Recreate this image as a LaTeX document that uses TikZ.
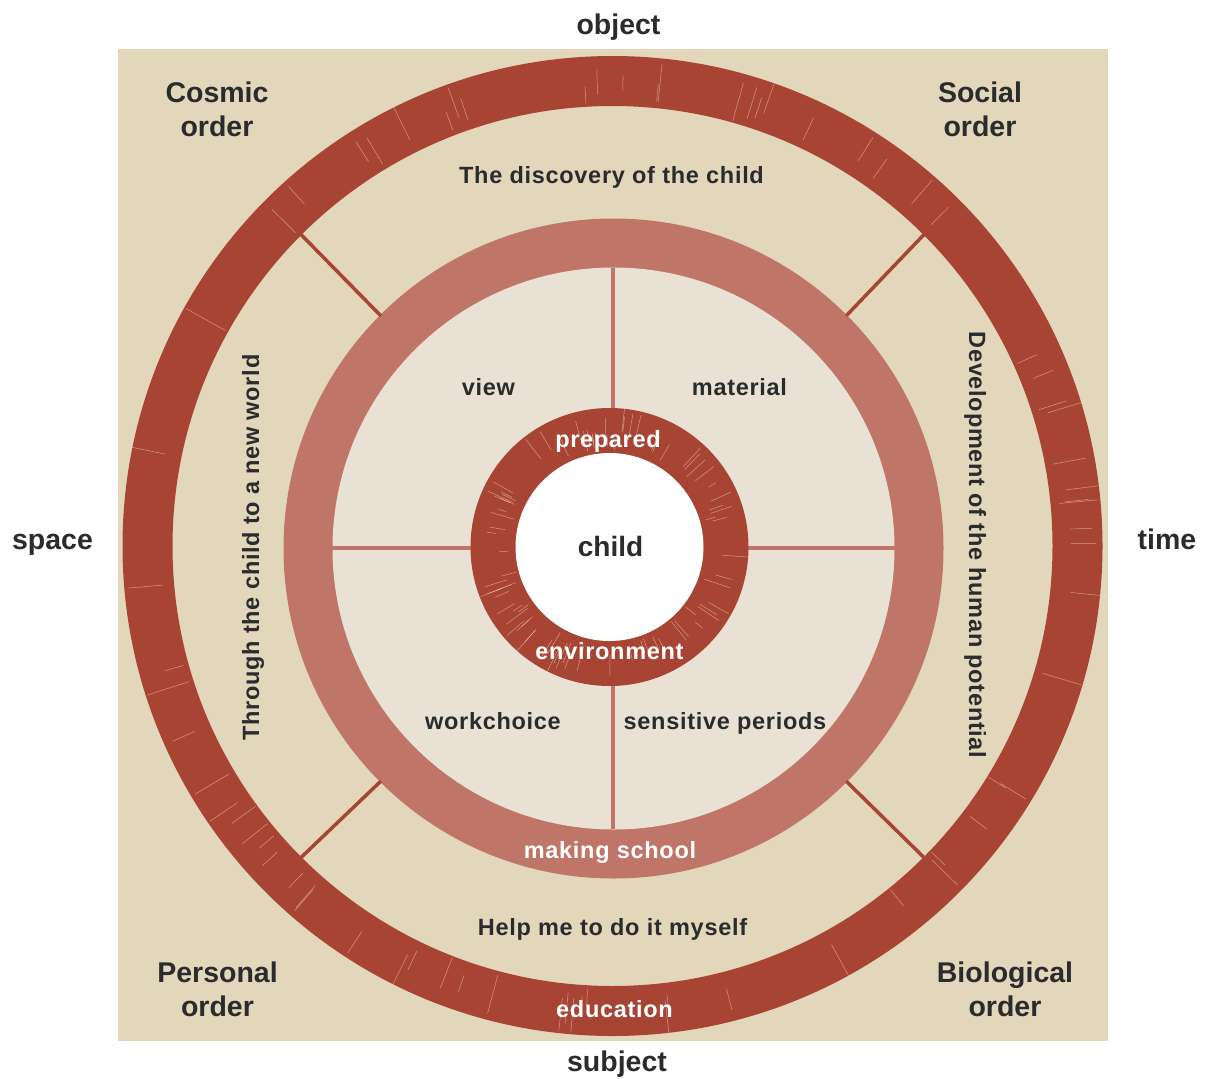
\documentclass[tikz,border=0pt]{standalone}
\usepackage{fontspec}
\setmainfont{Liberation Sans}
\newfontfamily\spacedfont{Liberation Sans}[LetterSpace=3]
\usetikzlibrary{calc}
\definecolor{bgc}{HTML}{E3D7BB}
\definecolor{outc}{HTML}{A84434}
\definecolor{midc}{HTML}{BF7567}
\definecolor{inc}{HTML}{E9E2D4}
\definecolor{txt}{HTML}{2A2B2D}
\definecolor{streak}{HTML}{F2E2C8}
\begin{document}
\begin{tikzpicture}[x=1pt,y=-1pt,
  big/.style={font=\fontsize{28.5}{34}\selectfont\bfseries, text=txt, inner sep=0pt, anchor=base},
  small/.style={font=\spacedfont\fontsize{23.5}{28}\selectfont\bfseries, text=txt, inner sep=0pt, anchor=base},
  wsmall/.style={small, text=white},
  divider/.style={midc, line width=3.5pt},
  spoke/.style={outc, line width=3.5pt},
  streakline/.style={streak, line width=0.5pt, opacity=0.55}
]
\useasboundingbox (0,0) rectangle (1205,1079);
\fill[white] (0,0) rectangle (1205,1079);
% background square
\fill[bgc] (118,49) rectangle (1108,1041);

% centres
\coordinate (C1) at (612.5,546);
\coordinate (C2) at (613.5,548.5);
\coordinate (C3) at (609.5,547);

% outer ring
\fill[outc, even odd rule] (C1) circle[radius=490pt] (C1) circle[radius=440pt];
\pgfmathsetseed{11}
\foreach \i in {1,...,70}{
  \pgfmathsetmacro{\ang}{rnd*360}
  \pgfmathsetmacro{\ra}{441+rnd*20}
  \pgfmathsetmacro{\rb}{\ra+15+rnd*30}
  \draw[streakline] ($(C1)+(\ang:\ra pt)$) -- ($(C1)+(\ang:\rb pt)$);
}

% middle ring and inner disk
\fill[midc] (C2) circle[radius=330pt];
\fill[inc] (C2) circle[radius=281pt];

% diagonal spokes between outer ring and middle ring
\foreach \a/\n in {45/ne,135/nw,225/sw,315/se}{
  \coordinate (sa\n) at ($(C1)+(\a:441pt)$);
  \coordinate (sb\n) at ($(C2)+(\a:329pt)$);
  \draw[spoke] (sa\n) -- (sb\n);
}

% inner ring geometry points
\coordinate (vt1) at (613,268);
\coordinate (vt2) at (613,409);
\coordinate (vb1) at (613,685);
\coordinate (vb2) at (613,829);
\coordinate (hl1) at (332,548);
\coordinate (hl2) at (471,548);
\coordinate (hr1) at (748,548);
\coordinate (hr2) at (895,548);
\draw[divider] (vt1) -- (vt2);
\draw[divider] (vb1) -- (vb2);
\draw[divider] (hl1) -- (hl2);
\draw[divider] (hr1) -- (hr2);

% inner ring
\fill[outc] (C3) circle[radius=139pt];
\pgfmathsetseed{5}
\foreach \i in {1,...,80}{
  \pgfmathsetmacro{\ang}{rnd*360}
  \pgfmathsetmacro{\ra}{96+rnd*20}
  \pgfmathsetmacro{\rb}{\ra+8+rnd*20}
  \draw[streakline] ($(C3)+(\ang:\ra pt)$) -- ($(C3)+(\ang:\rb pt)$);
}
\fill[white] (C3) circle[radius=94pt];

% axis labels
\node[big] (object) at (618.5,34) {object};
\node[big] (subject) at (617,1071) {subject};
\node[big] (space) at (52.5,549) {space};
\node[big] (time) at (1167,549) {time};

% corner labels
\node[big] (cosmic) at (217,102) {\begin{tabular}[t]{@{}c@{}}Cosmic\\order\end{tabular}};
\node[big] (social) at (980,102) {\begin{tabular}[t]{@{}c@{}}Social\\order\end{tabular}};
\node[big] (personal) at (217.5,982) {\begin{tabular}[t]{@{}c@{}}Personal\\order\end{tabular}};
\node[big] (biological) at (1005,982) {\begin{tabular}[t]{@{}c@{}}Biological\\order\end{tabular}};

% ring band texts
\node[small] (discovery) at (611.5,183) {The discovery of the child};
\node[small] (help) at (612.5,935) {Help me to do it myself};
\node[small, rotate=90] (through) at (259,547.5) {Through the child to a new world};
\node[small, rotate=-90] (development) at (969,545) {Development of the human potential};

% quadrant texts
\node[small] (view) at (488.5,395) {view};
\node[small] (material) at (739.5,395) {material};
\node[small] (workchoice) at (493,729) {workchoice};
\node[small] (sensitive) at (725,729) {sensitive periods};

% white texts on rings
\node[wsmall] (prepared) at (608,447) {prepared};
\node[wsmall] (environment) at (609.5,659) {environment};
\node[wsmall] (making) at (610,858) {making school};
\node[wsmall] (education) at (614.5,1017) {education};

% centre
\node[font=\fontsize{28}{34}\selectfont\bfseries, text=txt, inner sep=0pt, anchor=base] (child) at (610.5,556) {child};
\end{tikzpicture}
\end{document}
